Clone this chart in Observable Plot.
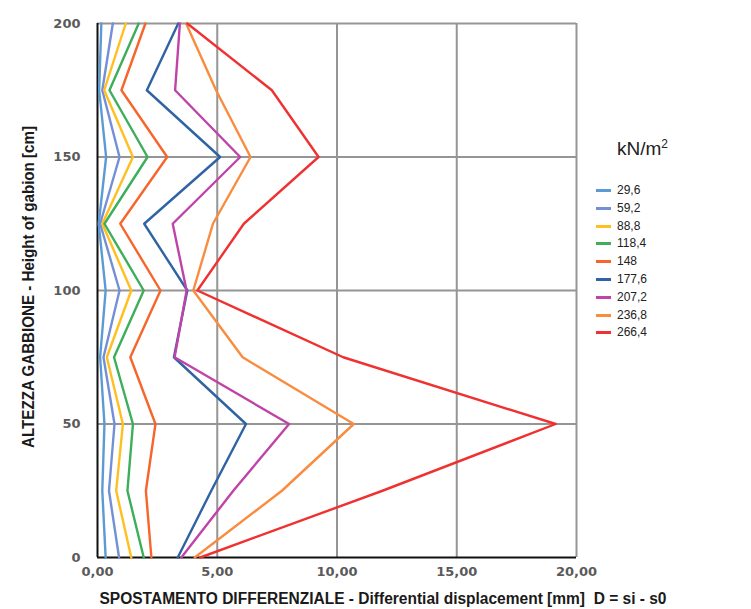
<!DOCTYPE html>
<html>
<head>
<meta charset="utf-8">
<script src="https://cdn.jsdelivr.net/npm/d3@7"></script>
<script src="https://cdn.jsdelivr.net/npm/@observablehq/plot@0.6"></script>
<style>
  html, body { margin: 0; padding: 0; background: #ffffff; }
  #wrap { position: relative; width: 751px; height: 609px; overflow: hidden; }
  #legend { position: absolute; left: 596px; top: 138px; font-family: "Liberation Sans", Arial, sans-serif; color: #222; }
  #legend .title { position: absolute; left: 21px; top: -1px; font-size: 19px; white-space: nowrap; }
  #legend .title sup { font-size: 12px; vertical-align: 7px; }
  #legend .row { position: absolute; left: 0; height: 14px; white-space: nowrap; font-size: 12px; line-height: 14px; }
  #legend .sw { position: absolute; left: 0; top: 6px; width: 15px; height: 3px; }
  #legend .lb { position: absolute; left: 21px; top: 0; }
</style>
</head>
<body>
<div id="wrap"></div>
<script>
// ---- data ----
const heights = [0, 25, 50, 75, 100, 125, 150, 175, 200];
const loads = ["29,6", "59,2", "88,8", "118,4", "148", "177,6", "207,2", "236,8", "266,4"];
const colors = ["#5B9BD5", "#7390D6", "#FFBF1F", "#3DAE5A", "#F7652A", "#2F63A3", "#C044A8", "#F98C3E", "#EF3131"];
const s29_6  = [0.34, 0.20, 0.29, 0.11, 0.34, 0.05, 0.36, 0.07, 0.16];
const s59_2  = [0.90, 0.48, 0.71, 0.25, 0.92, 0.11, 0.92, 0.20, 0.64];
const s88_8  = [1.41, 0.78, 1.06, 0.39, 1.41, 0.20, 1.48, 0.28, 1.18];
const s118_4 = [1.93, 1.25, 1.48, 0.69, 1.93, 0.29, 2.09, 0.50, 1.72];
const s148   = [2.25, 2.02, 2.42, 1.37, 2.63, 0.95, 2.91, 1.00, 2.00];
const s177_6 = [3.35, 4.75, 6.20, 3.19, 3.75, 1.95, 5.12, 2.06, 3.37];
const s207_2 = [3.50, 5.67, 8.00, 3.22, 3.72, 3.14, 5.96, 3.24, 3.44];
const s236_8 = [4.06, 7.70, 10.70, 6.06, 4.00, 4.82, 6.39, 4.95, 3.70];
const s266_4 = [4.29, 11.90, 19.13, 10.26, 4.17, 6.11, 9.23, 7.28, 3.75];
const xTicks = [0, 5, 10, 15, 20];
const yTicks = [0, 50, 100, 150, 200];
const xLabel = "SPOSTAMENTO DIFFERENZIALE - Differential displacement [mm]  D = si - s0";
const yLabel = "ALTEZZA GABBIONE - Height of gabion [cm]";
const legendTitle = "kN/m";

const series = [s29_6, s59_2, s88_8, s118_4, s148, s177_6, s207_2, s236_8, s266_4];
const rows = [];
series.forEach((vals, i) => {
  vals.forEach((v, j) => rows.push({load: loads[i], d: v, h: heights[j]}));
});

const fmt = d => d.toFixed(2).replace(".", ",");

const svg = Plot.plot({
  width: 751,
  height: 609,
  marginLeft: 97,
  marginRight: 175,
  marginTop: 23,
  marginBottom: 52,
  style: {fontFamily: "DejaVu Sans, Verdana, sans-serif", fontSize: "13px", fontWeight: "bold", color: "#5a5a5a", background: "transparent"},
  x: {domain: [0, 20], label: null},
  y: {domain: [0, 200], label: null},
  color: {domain: loads, range: colors},
  marks: [
    Plot.gridX(xTicks.slice(1), {stroke: "#959595", strokeOpacity: 1, strokeWidth: 2}),
    Plot.gridY(yTicks.slice(1), {stroke: "#959595", strokeOpacity: 1, strokeWidth: 2}),
    Plot.axisX({ticks: xTicks, tickSize: 0, tickPadding: 9, tickFormat: fmt, fill: "#5a5a5a"}),
    Plot.axisY({ticks: yTicks, tickSize: 0, tickPadding: 17, fill: "#5a5a5a"}),
    Plot.ruleX([0], {stroke: "#111", strokeWidth: 2}),
    Plot.ruleY([0], {stroke: "#111", strokeWidth: 2}),
    Plot.line(rows, {x: "d", y: "h", z: "load", stroke: "load", strokeWidth: 2.4, curve: "linear"})
  ]
});

const sel = d3.select(svg);
sel.append("text")
  .attr("transform", "translate(28,287) rotate(-90)")
  .attr("text-anchor", "middle")
  .attr("dy", "0.35em")
  .attr("textLength", 322)
  .attr("lengthAdjust", "spacingAndGlyphs")
  .style("font-family", "Liberation Sans, Arial, sans-serif")
  .style("font-size", "16px")
  .style("font-weight", "bold")
  .style("fill", "#1a1a1a")
  .text(yLabel);
sel.append("text")
  .attr("x", 383)
  .attr("y", 604)
  .attr("text-anchor", "middle")
  .attr("textLength", 567)
  .attr("lengthAdjust", "spacingAndGlyphs")
  .style("white-space", "pre")
  .style("font-family", "Liberation Sans, Arial, sans-serif")
  .style("font-size", "16px")
  .style("font-weight", "bold")
  .style("fill", "#1a1a1a")
  .text(xLabel);

const wrap = document.getElementById("wrap");
wrap.appendChild(svg);

// legend
const lg = document.createElement("div");
lg.id = "legend";
const t = document.createElement("div");
t.className = "title";
t.innerHTML = legendTitle + "<sup>2</sup>";
lg.appendChild(t);
loads.forEach((l, i) => {
  const r = document.createElement("div");
  r.className = "row";
  r.style.top = (45 + i * 17.8) + "px";
  const sw = document.createElement("div");
  sw.className = "sw";
  sw.style.background = colors[i];
  const lb = document.createElement("div");
  lb.className = "lb";
  lb.textContent = l;
  r.appendChild(sw);
  r.appendChild(lb);
  lg.appendChild(r);
});
wrap.appendChild(lg);
</script>
</body>
</html>
